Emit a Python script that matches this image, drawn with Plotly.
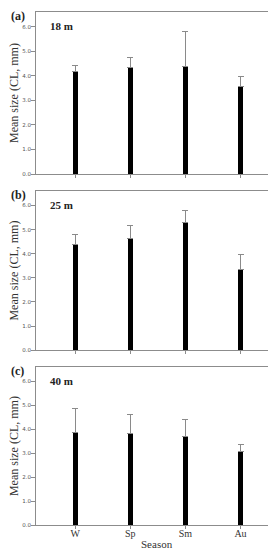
import plotly.graph_objects as go

seasons = ["W", "Sp", "Sm", "Au"]
panels = ["(a)", "(b)", "(c)"]
depths = ["18 m", "25 m", "40 m"]
mean_18 = [4.17, 4.33, 4.38, 3.57]
upper_18 = [4.44, 4.76, 5.80, 3.98]
mean_25 = [4.37, 4.63, 5.31, 3.33]
upper_25 = [4.78, 5.18, 5.80, 3.96]
mean_40 = [3.85, 3.84, 3.69, 3.07]
upper_40 = [4.87, 4.63, 4.40, 3.38]
ytick_vals = [0, 1, 2, 3, 4, 5, 6]
ytick_text = ["0.0", "1.0", "2.0", "3.0", "4.0", "5.0", "6.0"]

means = [mean_18, mean_25, mean_40]
uppers = [upper_18, upper_25, upper_40]

W, H = 276, 550
x_dom = [28 / W, 270 / W]
y_doms = [[1 - 167 / H, 1 - 4 / H], [1 - 344 / H, 1 - 184 / H], [1 - 520 / H, 1 - 361 / H]]

serif = "Liberation Serif"
fig = go.Figure()
for i in range(3):
    xa = "x" if i == 0 else f"x{i+1}"
    ya = "y" if i == 0 else f"y{i+1}"
    errs = [u - m for u, m in zip(uppers[i], means[i])]
    fig.add_trace(go.Bar(
        x=seasons, y=means[i], xaxis=xa, yaxis=ya,
        width=0.09, marker=dict(color="black", line=dict(width=0)),
        error_y=dict(type="data", array=errs, arrayminus=[0] * 4, symmetric=False,
                     color="#8a8a8a", thickness=1, width=3),
        showlegend=False,
    ))
    xkey = "xaxis" if i == 0 else f"xaxis{i+1}"
    ykey = "yaxis" if i == 0 else f"yaxis{i+1}"
    fig.update_layout({
        xkey: dict(domain=x_dom, anchor=ya, range=[-0.71, 3.68], showgrid=False,
                   showline=True, linecolor="#8c8c8c", linewidth=1, mirror=True,
                   ticks="outside", ticklen=3, tickcolor="#8c8c8c",
                   showticklabels=(i == 2), ticklabelstandoff=-4,
                   tickfont=dict(family=serif, size=10, color="#333"),
                   zeroline=False),
        ykey: dict(domain=y_doms[i], anchor=xa, range=[0, 6.6], showgrid=False,
                   showline=True, linecolor="#8c8c8c", linewidth=1, mirror=True,
                   ticks="outside", ticklen=4, tickcolor="#8c8c8c",
                   tickvals=ytick_vals, ticktext=ytick_text, ticklabelstandoff=-1,
                   tickfont=dict(family="DejaVu Sans", size=5.5, color="#555"),
                   zeroline=False),
    })
    top = y_doms[i][1]
    mid = (y_doms[i][0] + y_doms[i][1]) / 2
    fig.add_annotation(xref="paper", yref="paper", x=1 / W, y=top - 4 / H, text="<b>" + panels[i] + "</b>",
                       showarrow=False, xanchor="left", yanchor="middle",
                       font=dict(family=serif, size=12, color="#222"))
    fig.add_annotation(xref="paper", yref="paper", x=40 / W, y=top - 14 / H, text="<b>" + depths[i] + "</b>",
                       showarrow=False, xanchor="left", yanchor="middle",
                       font=dict(family=serif, size=11, color="#222"))
    fig.add_annotation(xref="paper", yref="paper", x=6 / W, y=mid, text="Mean size (CL, mm)",
                       showarrow=False, textangle=-90, xanchor="center", yanchor="middle",
                       font=dict(family=serif, size=12, color="#333"))

fig.add_annotation(xref="paper", yref="paper", x=(x_dom[0] + x_dom[1]) / 2, y=1 - 539 / H, text="Season",
                   showarrow=False, xanchor="center", yanchor="middle",
                   font=dict(family=serif, size=11, color="#333"))

fig.update_layout(width=W, height=H, margin=dict(l=0, r=0, t=0, b=0),
                  paper_bgcolor="white", plot_bgcolor="white", bargap=0)
fig.write_html("out.html")
